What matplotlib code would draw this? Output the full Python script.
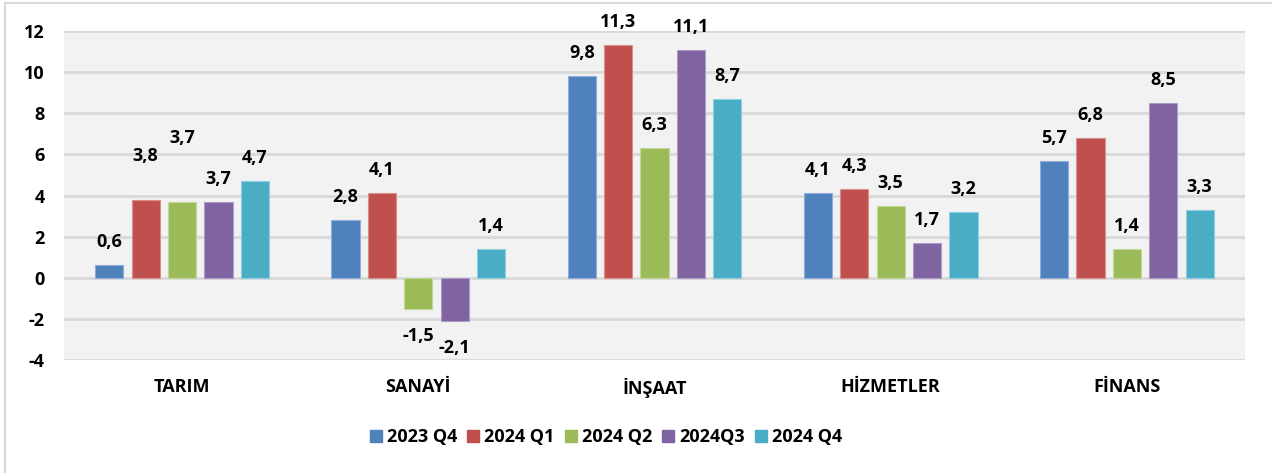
import matplotlib
matplotlib.use("Agg")
import matplotlib.pyplot as plt
from matplotlib.lines import Line2D
import numpy as np

categories = ["TARIM", "SANAYİ", "İNŞAAT", "HİZMETLER", "FİNANS"]
series_names = ["2023 Q4", "2024 Q1", "2024 Q2", "2024Q3", "2024 Q4"]
v_2023q4 = [0.6, 2.8, 9.8, 4.1, 5.7]
v_2024q1 = [3.8, 4.1, 11.3, 4.3, 6.8]
v_2024q2 = [3.7, -1.5, 6.3, 3.5, 1.4]
v_2024q3 = [3.7, -2.1, 11.1, 1.7, 8.5]
v_2024q4 = [4.7, 1.4, 8.7, 3.2, 3.3]
series_values = [v_2023q4, v_2024q1, v_2024q2, v_2024q3, v_2024q4]
colors = ["#4F81BD", "#C0504D", "#9BBB59", "#8064A2", "#4BACC6"]
edge_colors = ["#8FAEDA", "#DA8F8D", "#C3D99A", "#AE9AC6", "#8FD0E0"]

# label offsets (pixels) for labels moved away from default position
extra_offset = {(0, 1): 21, (0, 2): 41}

plt.rcParams['font.family'] = ['Open Sans', 'DejaVu Sans']
plt.rcParams['font.weight'] = 'bold'
FS = 13

W, H = 1272, 473
fig = plt.figure(figsize=(W / 100, H / 100), dpi=100)
fig.patch.set_facecolor("white")
ax = fig.add_axes([64 / W, 1 - 360 / H, (1245 - 64) / W, (360 - 31) / H])
ax.set_facecolor("#F2F2F2")

x = np.arange(len(categories))
width = 0.119
pitch = 0.154
for i, (name, vals) in enumerate(zip(series_names, series_values)):
    pos = x + (i - 2) * pitch
    ax.bar(pos, vals, width, color=colors[i], edgecolor=edge_colors[i],
           linewidth=0.8, label=name, zorder=3)
    for j, (p, v) in enumerate(zip(pos, vals)):
        off = 23 + extra_offset.get((j, i), 0)
        if v < 0:
            off = -27
        ax.annotate(f"{v:.1f}".replace(".", ","), (p, v), xytext=(0, off),
                    textcoords="offset pixels", ha="center", va="center",
                    fontsize=FS, fontweight="bold", color="black", zorder=4)

ax.set_ylim(-4, 12)
ax.set_xlim(-0.5, len(categories) - 0.5)
ax.set_yticks(np.arange(-4, 13, 2))
ax.set_yticklabels([str(t) for t in range(-4, 13, 2)], fontsize=FS, fontweight="bold")
ax.set_xticks(x)
ax.set_xticklabels(categories, fontsize=FS, fontweight="bold")
ax.tick_params(axis="both", length=0)
ax.tick_params(axis="x", pad=13)
ax.tick_params(axis="y", pad=14)
ax.grid(axis="y", color="#D9D9D9", linewidth=2, zorder=0)
for s in ax.spines.values():
    s.set_visible(False)

handles = [plt.Rectangle((0, 0), 1, 1, color=c) for c in colors]
fig.legend(handles, series_names, loc="center", bbox_to_anchor=(606 / W, 1 - 437 / H),
           ncol=5, frameon=False, handlelength=0.67, handleheight=0.67,
           handletextpad=0.28, columnspacing=0.55, prop={'weight': 'bold', 'size': FS})

fig.add_artist(Line2D([5 / W, 5 / W], [0, 1 - 3 / H], transform=fig.transFigure,
                      color="#D9D9D9", linewidth=1.5))
fig.add_artist(Line2D([5 / W, 1], [1 - 3 / H, 1 - 3 / H], transform=fig.transFigure,
                      color="#D9D9D9", linewidth=1.5))

fig.savefig("out.png", dpi=100, facecolor="white")
